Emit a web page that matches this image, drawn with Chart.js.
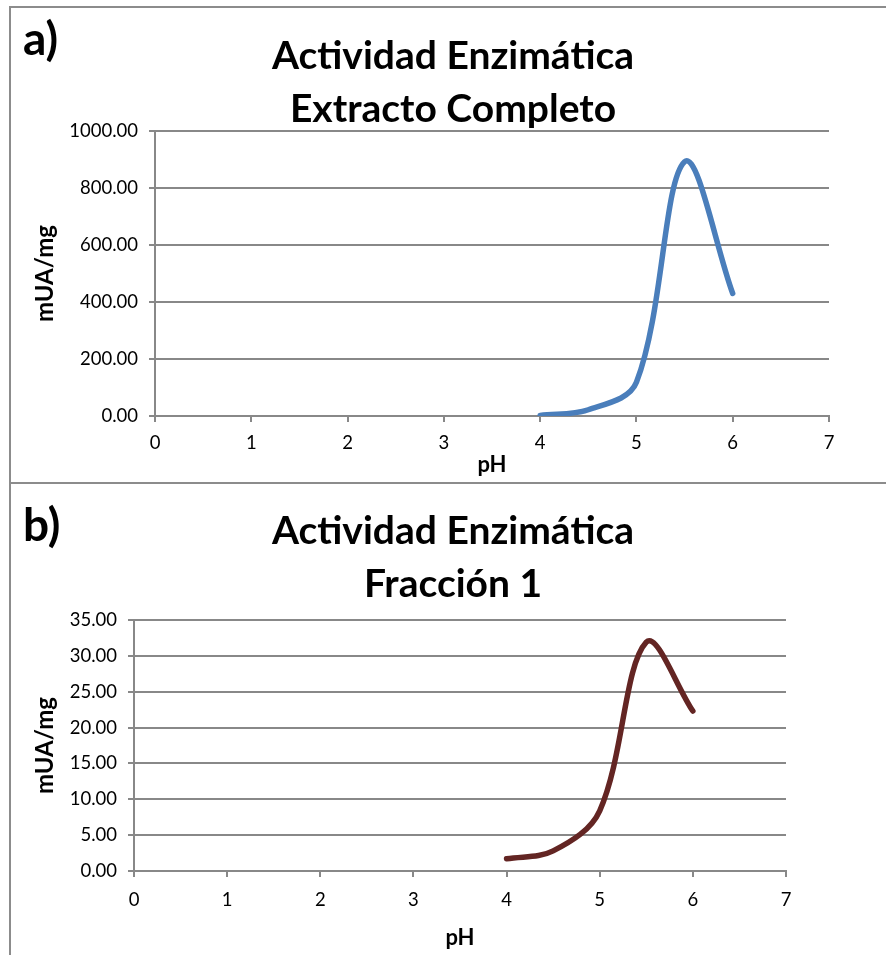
<!DOCTYPE html>
<html>
<head>
<meta charset="utf-8">
<script src="https://cdn.jsdelivr.net/npm/chart.js@4"></script>
<style>
  body { margin: 0; background: #fff; font-family: Lato, "Open Sans", sans-serif; }
  #page { position: relative; width: 886px; height: 955px; overflow: hidden; }
  .panel { position: absolute; left: 9px; width: 890px; border-left: 2px solid #8c8c8c; }
  #panelA { top: 6px; height: 474px; border-top: 2px solid #8c8c8c; border-bottom: 2px solid #8c8c8c; }
  #panelB { top: 482px; height: 480px; }
  .tag { position: absolute; left: 12px; font-weight: bold; font-size: 46px; color: #000; }
  .title { position: absolute; left: -1px; width: 886px; text-align: center; font-weight: bold; font-size: 39px; line-height: 53px; color: #000; }
  canvas { position: absolute; left: 0; top: 0; }
</style>
</head>
<body>
<div id="page">
  <div class="panel" id="panelA">
    <canvas id="chartA" width="875" height="474"></canvas>
    <div class="tag" style="top:2px;">a)</div>
    <div class="title" style="top:20px;">Actividad Enzimática<br>Extracto Completo</div>
  </div>
  <div class="panel" id="panelB">
    <canvas id="chartB" width="875" height="473"></canvas>
    <div class="tag" style="top:14px;">b)</div>
    <div class="title" style="top:21px;">Actividad Enzimática<br>Fracción 1</div>
  </div>
</div>
<script>
// pH values shared by both curves
const phValues = [4, 4.5, 5, 5.5, 6];

// a) Extracto completo (mUA/mg)
const extractoValues = [2, 22, 118, 892, 430];

// b) Fracción 1 (mUA/mg)
const fraccionValues = [1.7, 2.8, 8.4, 31.9, 22.3];

const xTicks = [0, 1, 2, 3, 4, 5, 6, 7];
const yTicksA = [0, 200, 400, 600, 800, 1000];
const yTicksB = [0, 5, 10, 15, 20, 25, 30, 35];

const gridGray = '#888888';
const FONT = 'Lato, "Open Sans", sans-serif';

function makeChart(canvasId, values, color, yMax, yTicks, area) {
    const points = phValues.map((x, i) => ({ x: x, y: values[i] }));
    return new Chart(document.getElementById(canvasId), {
        type: 'line',
        data: {
            datasets: [{
                data: points,
                borderColor: color,
                borderWidth: 5.5,
                pointRadius: 0,
                tension: 0.35,
                fill: false,
                borderCapStyle: 'round',
                borderJoinStyle: 'round'
            }]
        },
        options: {
            responsive: false,
            animation: false,
            events: [],
            layout: { padding: { top: area.top, right: area.right, left: 0, bottom: 0 } },
            plugins: { legend: { display: false }, tooltip: { enabled: false } },
            scales: {
                x: {
                    type: 'linear',
                    min: 0,
                    max: 7,
                    afterBuildTicks: s => { s.ticks = xTicks.map(v => ({ value: v })); },
                    afterFit: s => { s.height = area.xHeight; },
                    grid: { drawOnChartArea: false, drawTicks: true, tickLength: 6, color: gridGray, lineWidth: 2 },
                    border: { display: true, color: gridGray, width: 2 },
                    ticks: { color: '#000', font: { family: FONT, size: 18.5 }, padding: area.xPad, maxRotation: 0 },
                    title: { display: true, text: 'pH', color: '#000', font: { family: FONT, size: 22, weight: 'bold' }, padding: { top: 0, bottom: 4 } }
                },
                y: {
                    min: 0,
                    max: yMax,
                    afterBuildTicks: s => { s.ticks = yTicks.map(v => ({ value: v })); },
                    afterFit: s => { s.width = area.yWidth; },
                    grid: { drawOnChartArea: true, drawTicks: true, tickLength: 6, color: gridGray, lineWidth: 2 },
                    border: { display: true, color: gridGray, width: 2 },
                    ticks: { color: '#000', font: { family: FONT, size: 18.5 }, padding: 11, callback: v => v.toFixed(2) },
                    title: { display: true, text: 'mUA/mg', color: '#000', font: { family: FONT, size: 24, weight: 'bold' }, padding: { top: 20, bottom: 0 } }
                }
            }
        }
    });
}

makeChart('chartA', extractoValues, '#4a7ebb', 1000, yTicksA,
    { top: 123, right: 57, yWidth: 144, xHeight: 66, xPad: 10 });
makeChart('chartB', fraccionValues, '#632523', 35, yTicksB,
    { top: 138, right: 100, yWidth: 123, xHeight: 84, xPad: 12 });
</script>
</body>
</html>
